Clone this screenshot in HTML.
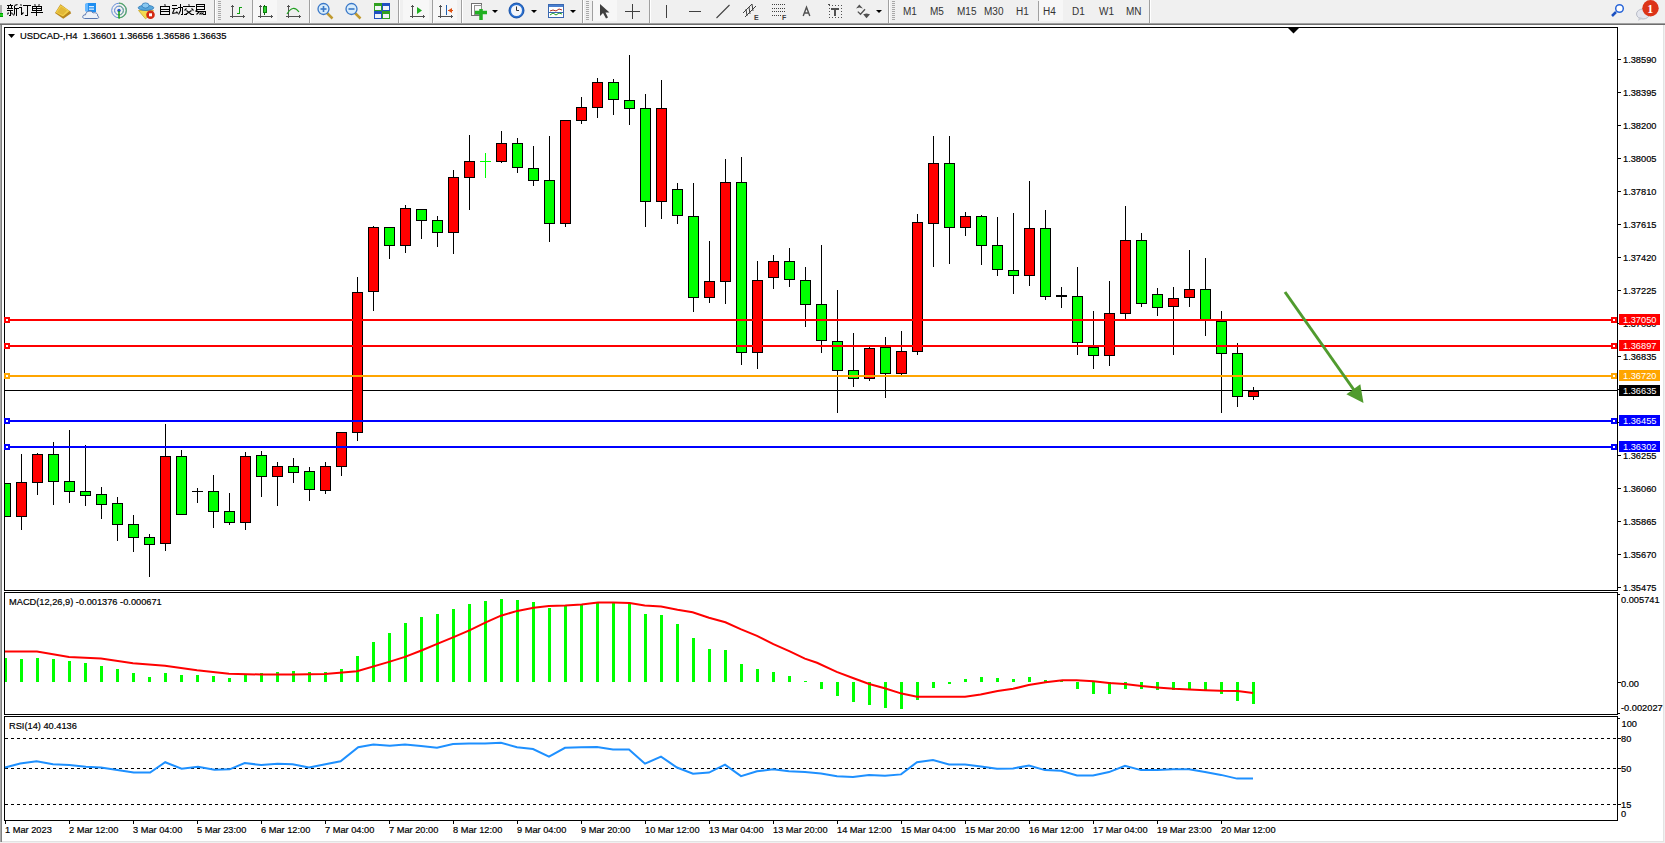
<!DOCTYPE html>
<html><head><meta charset="utf-8"><style>
html,body{margin:0;padding:0;width:1665px;height:843px;overflow:hidden;background:#f0f0f0;}
svg{position:absolute;left:0;top:0;display:block}
text{font-family:"Liberation Sans",sans-serif;font-size:9.5px}
</style></head><body>
<svg width="1665" height="843" viewBox="0 0 1665 843" shape-rendering="crispEdges">
<!-- frame -->
<rect x="0" y="0" width="1665" height="23" fill="#f0f0f0"/>
<rect x="0" y="23" width="1665" height="1" fill="#a0a0a0"/>
<rect x="0" y="24" width="1665" height="1" fill="#6e6e6e"/>
<rect x="0" y="25" width="1664" height="817" fill="#ffffff"/>
<rect x="0" y="25" width="1" height="817" fill="#a8a8a8"/><rect x="1" y="25" width="1" height="817" fill="#808080"/>
<rect x="1663" y="25" width="1" height="817" fill="#e3e3e3"/>
<rect x="2" y="841" width="1662" height="1" fill="#e3e3e3"/>
<!-- panel borders -->
<rect x="4" y="27" width="1614" height="1" fill="#000"/>
<rect x="4" y="590" width="1614" height="1" fill="#000"/>
<rect x="4" y="27" width="1" height="564" fill="#000"/>
<rect x="1617" y="27" width="1" height="564" fill="#000"/>
<rect x="4" y="592" width="1614" height="1" fill="#000"/>
<rect x="4" y="714" width="1614" height="1" fill="#000"/>
<rect x="4" y="592" width="1" height="123" fill="#000"/>
<rect x="1617" y="592" width="1" height="123" fill="#000"/>
<rect x="4" y="716" width="1614" height="1" fill="#000"/>
<rect x="4" y="820" width="1614" height="1" fill="#000"/>
<rect x="4" y="716" width="1" height="105" fill="#000"/>
<rect x="1617" y="716" width="1" height="105" fill="#000"/>
<rect x="1618" y="594" width="2" height="1" fill="#000"/>
<rect x="1618" y="713" width="2" height="1" fill="#000"/>
<rect x="1618" y="718" width="2" height="1" fill="#000"/>
<polygon points="1288,28 1299,28 1293.5,33.5" fill="#000" shape-rendering="geometricPrecision"/>
<!-- bid line -->
<rect x="5" y="390" width="1612" height="1" fill="#000"/>
<svg x="5" y="28" width="1612" height="562" viewBox="5 28 1612 562" overflow="hidden">
<rect x="0" y="483" width="11" height="34" fill="#000"/>
<rect x="1" y="484" width="9" height="32" fill="#00ff00"/>
<rect x="21" y="454" width="1" height="28" fill="#000"/>
<rect x="21" y="517" width="1" height="13" fill="#000"/>
<rect x="16" y="482" width="11" height="35" fill="#000"/>
<rect x="17" y="483" width="9" height="33" fill="#ff0000"/>
<rect x="37" y="453" width="1" height="1" fill="#000"/>
<rect x="37" y="483" width="1" height="12" fill="#000"/>
<rect x="32" y="454" width="11" height="29" fill="#000"/>
<rect x="33" y="455" width="9" height="27" fill="#ff0000"/>
<rect x="53" y="442" width="1" height="12" fill="#000"/>
<rect x="53" y="482" width="1" height="23" fill="#000"/>
<rect x="48" y="454" width="11" height="28" fill="#000"/>
<rect x="49" y="455" width="9" height="26" fill="#00ff00"/>
<rect x="69" y="430" width="1" height="51" fill="#000"/>
<rect x="69" y="492" width="1" height="11" fill="#000"/>
<rect x="64" y="481" width="11" height="11" fill="#000"/>
<rect x="65" y="482" width="9" height="9" fill="#00ff00"/>
<rect x="85" y="445" width="1" height="46" fill="#000"/>
<rect x="85" y="496" width="1" height="10" fill="#000"/>
<rect x="80" y="491" width="11" height="5" fill="#000"/>
<rect x="81" y="492" width="9" height="3" fill="#00ff00"/>
<rect x="101" y="487" width="1" height="7" fill="#000"/>
<rect x="101" y="505" width="1" height="14" fill="#000"/>
<rect x="96" y="494" width="11" height="11" fill="#000"/>
<rect x="97" y="495" width="9" height="9" fill="#00ff00"/>
<rect x="117" y="497" width="1" height="6" fill="#000"/>
<rect x="117" y="525" width="1" height="16" fill="#000"/>
<rect x="112" y="503" width="11" height="22" fill="#000"/>
<rect x="113" y="504" width="9" height="20" fill="#00ff00"/>
<rect x="133" y="515" width="1" height="9" fill="#000"/>
<rect x="133" y="538" width="1" height="14" fill="#000"/>
<rect x="128" y="524" width="11" height="14" fill="#000"/>
<rect x="129" y="525" width="9" height="12" fill="#00ff00"/>
<rect x="149" y="534" width="1" height="3" fill="#000"/>
<rect x="149" y="545" width="1" height="32" fill="#000"/>
<rect x="144" y="537" width="11" height="8" fill="#000"/>
<rect x="145" y="538" width="9" height="6" fill="#00ff00"/>
<rect x="165" y="424" width="1" height="32" fill="#000"/>
<rect x="165" y="544" width="1" height="7" fill="#000"/>
<rect x="160" y="456" width="11" height="88" fill="#000"/>
<rect x="161" y="457" width="9" height="86" fill="#ff0000"/>
<rect x="181" y="450" width="1" height="6" fill="#000"/>
<rect x="176" y="456" width="11" height="59" fill="#000"/>
<rect x="177" y="457" width="9" height="57" fill="#00ff00"/>
<rect x="197" y="488" width="1" height="15" fill="#000"/>
<rect x="192" y="491" width="11" height="1" fill="#000"/>
<rect x="213" y="475" width="1" height="16" fill="#000"/>
<rect x="213" y="512" width="1" height="16" fill="#000"/>
<rect x="208" y="491" width="11" height="21" fill="#000"/>
<rect x="209" y="492" width="9" height="19" fill="#00ff00"/>
<rect x="229" y="493" width="1" height="18" fill="#000"/>
<rect x="229" y="523" width="1" height="2" fill="#000"/>
<rect x="224" y="511" width="11" height="12" fill="#000"/>
<rect x="225" y="512" width="9" height="10" fill="#00ff00"/>
<rect x="245" y="452" width="1" height="4" fill="#000"/>
<rect x="245" y="523" width="1" height="7" fill="#000"/>
<rect x="240" y="456" width="11" height="67" fill="#000"/>
<rect x="241" y="457" width="9" height="65" fill="#ff0000"/>
<rect x="261" y="451" width="1" height="4" fill="#000"/>
<rect x="261" y="477" width="1" height="20" fill="#000"/>
<rect x="256" y="455" width="11" height="22" fill="#000"/>
<rect x="257" y="456" width="9" height="20" fill="#00ff00"/>
<rect x="277" y="462" width="1" height="4" fill="#000"/>
<rect x="277" y="477" width="1" height="29" fill="#000"/>
<rect x="272" y="466" width="11" height="11" fill="#000"/>
<rect x="273" y="467" width="9" height="9" fill="#ff0000"/>
<rect x="293" y="458" width="1" height="8" fill="#000"/>
<rect x="293" y="473" width="1" height="10" fill="#000"/>
<rect x="288" y="466" width="11" height="7" fill="#000"/>
<rect x="289" y="467" width="9" height="5" fill="#00ff00"/>
<rect x="309" y="467" width="1" height="4" fill="#000"/>
<rect x="309" y="490" width="1" height="11" fill="#000"/>
<rect x="304" y="471" width="11" height="19" fill="#000"/>
<rect x="305" y="472" width="9" height="17" fill="#00ff00"/>
<rect x="325" y="462" width="1" height="4" fill="#000"/>
<rect x="325" y="491" width="1" height="3" fill="#000"/>
<rect x="320" y="466" width="11" height="25" fill="#000"/>
<rect x="321" y="467" width="9" height="23" fill="#ff0000"/>
<rect x="341" y="467" width="1" height="9" fill="#000"/>
<rect x="336" y="432" width="11" height="35" fill="#000"/>
<rect x="337" y="433" width="9" height="33" fill="#ff0000"/>
<rect x="357" y="277" width="1" height="15" fill="#000"/>
<rect x="357" y="433" width="1" height="8" fill="#000"/>
<rect x="352" y="292" width="11" height="141" fill="#000"/>
<rect x="353" y="293" width="9" height="139" fill="#ff0000"/>
<rect x="373" y="226" width="1" height="1" fill="#000"/>
<rect x="373" y="292" width="1" height="19" fill="#000"/>
<rect x="368" y="227" width="11" height="65" fill="#000"/>
<rect x="369" y="228" width="9" height="63" fill="#ff0000"/>
<rect x="389" y="246" width="1" height="13" fill="#000"/>
<rect x="384" y="227" width="11" height="19" fill="#000"/>
<rect x="385" y="228" width="9" height="17" fill="#00ff00"/>
<rect x="405" y="205" width="1" height="3" fill="#000"/>
<rect x="405" y="246" width="1" height="7" fill="#000"/>
<rect x="400" y="208" width="11" height="38" fill="#000"/>
<rect x="401" y="209" width="9" height="36" fill="#ff0000"/>
<rect x="421" y="221" width="1" height="18" fill="#000"/>
<rect x="416" y="209" width="11" height="12" fill="#000"/>
<rect x="417" y="210" width="9" height="10" fill="#00ff00"/>
<rect x="437" y="216" width="1" height="4" fill="#000"/>
<rect x="437" y="233" width="1" height="14" fill="#000"/>
<rect x="432" y="220" width="11" height="13" fill="#000"/>
<rect x="433" y="221" width="9" height="11" fill="#00ff00"/>
<rect x="453" y="170" width="1" height="7" fill="#000"/>
<rect x="453" y="233" width="1" height="21" fill="#000"/>
<rect x="448" y="177" width="11" height="56" fill="#000"/>
<rect x="449" y="178" width="9" height="54" fill="#ff0000"/>
<rect x="469" y="135" width="1" height="26" fill="#000"/>
<rect x="469" y="178" width="1" height="32" fill="#000"/>
<rect x="464" y="161" width="11" height="17" fill="#000"/>
<rect x="465" y="162" width="9" height="15" fill="#ff0000"/>
<rect x="485" y="153" width="1" height="25" fill="#00ff00"/>
<rect x="480" y="161" width="11" height="1" fill="#00ff00"/>
<rect x="501" y="131" width="1" height="12" fill="#000"/>
<rect x="501" y="162" width="1" height="1" fill="#000"/>
<rect x="496" y="143" width="11" height="19" fill="#000"/>
<rect x="497" y="144" width="9" height="17" fill="#ff0000"/>
<rect x="517" y="138" width="1" height="5" fill="#000"/>
<rect x="517" y="168" width="1" height="5" fill="#000"/>
<rect x="512" y="143" width="11" height="25" fill="#000"/>
<rect x="513" y="144" width="9" height="23" fill="#00ff00"/>
<rect x="533" y="146" width="1" height="22" fill="#000"/>
<rect x="533" y="181" width="1" height="5" fill="#000"/>
<rect x="528" y="168" width="11" height="13" fill="#000"/>
<rect x="529" y="169" width="9" height="11" fill="#00ff00"/>
<rect x="549" y="136" width="1" height="44" fill="#000"/>
<rect x="549" y="224" width="1" height="18" fill="#000"/>
<rect x="544" y="180" width="11" height="44" fill="#000"/>
<rect x="545" y="181" width="9" height="42" fill="#00ff00"/>
<rect x="565" y="224" width="1" height="3" fill="#000"/>
<rect x="560" y="120" width="11" height="104" fill="#000"/>
<rect x="561" y="121" width="9" height="102" fill="#ff0000"/>
<rect x="581" y="97" width="1" height="10" fill="#000"/>
<rect x="581" y="121" width="1" height="3" fill="#000"/>
<rect x="576" y="107" width="11" height="14" fill="#000"/>
<rect x="577" y="108" width="9" height="12" fill="#ff0000"/>
<rect x="597" y="78" width="1" height="4" fill="#000"/>
<rect x="597" y="108" width="1" height="10" fill="#000"/>
<rect x="592" y="82" width="11" height="26" fill="#000"/>
<rect x="593" y="83" width="9" height="24" fill="#ff0000"/>
<rect x="613" y="79" width="1" height="3" fill="#000"/>
<rect x="613" y="100" width="1" height="15" fill="#000"/>
<rect x="608" y="82" width="11" height="18" fill="#000"/>
<rect x="609" y="83" width="9" height="16" fill="#00ff00"/>
<rect x="629" y="55" width="1" height="45" fill="#000"/>
<rect x="629" y="109" width="1" height="16" fill="#000"/>
<rect x="624" y="100" width="11" height="9" fill="#000"/>
<rect x="625" y="101" width="9" height="7" fill="#00ff00"/>
<rect x="645" y="94" width="1" height="14" fill="#000"/>
<rect x="645" y="202" width="1" height="25" fill="#000"/>
<rect x="640" y="108" width="11" height="94" fill="#000"/>
<rect x="641" y="109" width="9" height="92" fill="#00ff00"/>
<rect x="661" y="80" width="1" height="28" fill="#000"/>
<rect x="661" y="202" width="1" height="17" fill="#000"/>
<rect x="656" y="108" width="11" height="94" fill="#000"/>
<rect x="657" y="109" width="9" height="92" fill="#ff0000"/>
<rect x="677" y="183" width="1" height="6" fill="#000"/>
<rect x="677" y="216" width="1" height="8" fill="#000"/>
<rect x="672" y="189" width="11" height="27" fill="#000"/>
<rect x="673" y="190" width="9" height="25" fill="#00ff00"/>
<rect x="693" y="183" width="1" height="33" fill="#000"/>
<rect x="693" y="298" width="1" height="14" fill="#000"/>
<rect x="688" y="216" width="11" height="82" fill="#000"/>
<rect x="689" y="217" width="9" height="80" fill="#00ff00"/>
<rect x="709" y="241" width="1" height="40" fill="#000"/>
<rect x="709" y="298" width="1" height="5" fill="#000"/>
<rect x="704" y="281" width="11" height="17" fill="#000"/>
<rect x="705" y="282" width="9" height="15" fill="#ff0000"/>
<rect x="725" y="159" width="1" height="23" fill="#000"/>
<rect x="725" y="282" width="1" height="22" fill="#000"/>
<rect x="720" y="182" width="11" height="100" fill="#000"/>
<rect x="721" y="183" width="9" height="98" fill="#ff0000"/>
<rect x="741" y="157" width="1" height="25" fill="#000"/>
<rect x="741" y="353" width="1" height="12" fill="#000"/>
<rect x="736" y="182" width="11" height="171" fill="#000"/>
<rect x="737" y="183" width="9" height="169" fill="#00ff00"/>
<rect x="757" y="261" width="1" height="19" fill="#000"/>
<rect x="757" y="353" width="1" height="16" fill="#000"/>
<rect x="752" y="280" width="11" height="73" fill="#000"/>
<rect x="753" y="281" width="9" height="71" fill="#ff0000"/>
<rect x="773" y="255" width="1" height="6" fill="#000"/>
<rect x="773" y="278" width="1" height="11" fill="#000"/>
<rect x="768" y="261" width="11" height="17" fill="#000"/>
<rect x="769" y="262" width="9" height="15" fill="#ff0000"/>
<rect x="789" y="248" width="1" height="13" fill="#000"/>
<rect x="789" y="280" width="1" height="7" fill="#000"/>
<rect x="784" y="261" width="11" height="19" fill="#000"/>
<rect x="785" y="262" width="9" height="17" fill="#00ff00"/>
<rect x="805" y="267" width="1" height="13" fill="#000"/>
<rect x="805" y="305" width="1" height="22" fill="#000"/>
<rect x="800" y="280" width="11" height="25" fill="#000"/>
<rect x="801" y="281" width="9" height="23" fill="#00ff00"/>
<rect x="821" y="245" width="1" height="59" fill="#000"/>
<rect x="821" y="341" width="1" height="12" fill="#000"/>
<rect x="816" y="304" width="11" height="37" fill="#000"/>
<rect x="817" y="305" width="9" height="35" fill="#00ff00"/>
<rect x="837" y="290" width="1" height="51" fill="#000"/>
<rect x="837" y="371" width="1" height="42" fill="#000"/>
<rect x="832" y="341" width="11" height="30" fill="#000"/>
<rect x="833" y="342" width="9" height="28" fill="#00ff00"/>
<rect x="853" y="333" width="1" height="37" fill="#000"/>
<rect x="853" y="379" width="1" height="8" fill="#000"/>
<rect x="848" y="370" width="11" height="9" fill="#000"/>
<rect x="849" y="371" width="9" height="7" fill="#00ff00"/>
<rect x="869" y="347" width="1" height="1" fill="#000"/>
<rect x="869" y="379" width="1" height="2" fill="#000"/>
<rect x="864" y="348" width="11" height="31" fill="#000"/>
<rect x="865" y="349" width="9" height="29" fill="#ff0000"/>
<rect x="885" y="337" width="1" height="10" fill="#000"/>
<rect x="885" y="374" width="1" height="24" fill="#000"/>
<rect x="880" y="347" width="11" height="27" fill="#000"/>
<rect x="881" y="348" width="9" height="25" fill="#00ff00"/>
<rect x="901" y="331" width="1" height="20" fill="#000"/>
<rect x="901" y="374" width="1" height="1" fill="#000"/>
<rect x="896" y="351" width="11" height="23" fill="#000"/>
<rect x="897" y="352" width="9" height="21" fill="#ff0000"/>
<rect x="917" y="214" width="1" height="8" fill="#000"/>
<rect x="917" y="352" width="1" height="3" fill="#000"/>
<rect x="912" y="222" width="11" height="130" fill="#000"/>
<rect x="913" y="223" width="9" height="128" fill="#ff0000"/>
<rect x="933" y="136" width="1" height="27" fill="#000"/>
<rect x="933" y="224" width="1" height="43" fill="#000"/>
<rect x="928" y="163" width="11" height="61" fill="#000"/>
<rect x="929" y="164" width="9" height="59" fill="#ff0000"/>
<rect x="949" y="136" width="1" height="27" fill="#000"/>
<rect x="949" y="228" width="1" height="36" fill="#000"/>
<rect x="944" y="163" width="11" height="65" fill="#000"/>
<rect x="945" y="164" width="9" height="63" fill="#00ff00"/>
<rect x="965" y="212" width="1" height="4" fill="#000"/>
<rect x="965" y="228" width="1" height="8" fill="#000"/>
<rect x="960" y="216" width="11" height="12" fill="#000"/>
<rect x="961" y="217" width="9" height="10" fill="#ff0000"/>
<rect x="981" y="215" width="1" height="1" fill="#000"/>
<rect x="981" y="246" width="1" height="19" fill="#000"/>
<rect x="976" y="216" width="11" height="30" fill="#000"/>
<rect x="977" y="217" width="9" height="28" fill="#00ff00"/>
<rect x="997" y="217" width="1" height="28" fill="#000"/>
<rect x="997" y="270" width="1" height="6" fill="#000"/>
<rect x="992" y="245" width="11" height="25" fill="#000"/>
<rect x="993" y="246" width="9" height="23" fill="#00ff00"/>
<rect x="1013" y="213" width="1" height="57" fill="#000"/>
<rect x="1013" y="276" width="1" height="18" fill="#000"/>
<rect x="1008" y="270" width="11" height="6" fill="#000"/>
<rect x="1009" y="271" width="9" height="4" fill="#00ff00"/>
<rect x="1029" y="181" width="1" height="47" fill="#000"/>
<rect x="1029" y="276" width="1" height="10" fill="#000"/>
<rect x="1024" y="228" width="11" height="48" fill="#000"/>
<rect x="1025" y="229" width="9" height="46" fill="#ff0000"/>
<rect x="1045" y="210" width="1" height="18" fill="#000"/>
<rect x="1045" y="297" width="1" height="3" fill="#000"/>
<rect x="1040" y="228" width="11" height="69" fill="#000"/>
<rect x="1041" y="229" width="9" height="67" fill="#00ff00"/>
<rect x="1061" y="287" width="1" height="21" fill="#000"/>
<rect x="1056" y="295" width="11" height="2" fill="#000"/>
<rect x="1077" y="267" width="1" height="29" fill="#000"/>
<rect x="1077" y="343" width="1" height="12" fill="#000"/>
<rect x="1072" y="296" width="11" height="47" fill="#000"/>
<rect x="1073" y="297" width="9" height="45" fill="#00ff00"/>
<rect x="1093" y="311" width="1" height="36" fill="#000"/>
<rect x="1093" y="356" width="1" height="13" fill="#000"/>
<rect x="1088" y="347" width="11" height="9" fill="#000"/>
<rect x="1089" y="348" width="9" height="7" fill="#00ff00"/>
<rect x="1109" y="281" width="1" height="32" fill="#000"/>
<rect x="1109" y="356" width="1" height="10" fill="#000"/>
<rect x="1104" y="313" width="11" height="43" fill="#000"/>
<rect x="1105" y="314" width="9" height="41" fill="#ff0000"/>
<rect x="1125" y="206" width="1" height="34" fill="#000"/>
<rect x="1125" y="314" width="1" height="5" fill="#000"/>
<rect x="1120" y="240" width="11" height="74" fill="#000"/>
<rect x="1121" y="241" width="9" height="72" fill="#ff0000"/>
<rect x="1141" y="233" width="1" height="7" fill="#000"/>
<rect x="1141" y="304" width="1" height="3" fill="#000"/>
<rect x="1136" y="240" width="11" height="64" fill="#000"/>
<rect x="1137" y="241" width="9" height="62" fill="#00ff00"/>
<rect x="1157" y="288" width="1" height="6" fill="#000"/>
<rect x="1157" y="308" width="1" height="8" fill="#000"/>
<rect x="1152" y="294" width="11" height="14" fill="#000"/>
<rect x="1153" y="295" width="9" height="12" fill="#00ff00"/>
<rect x="1173" y="287" width="1" height="11" fill="#000"/>
<rect x="1173" y="307" width="1" height="48" fill="#000"/>
<rect x="1168" y="298" width="11" height="9" fill="#000"/>
<rect x="1169" y="299" width="9" height="7" fill="#ff0000"/>
<rect x="1189" y="250" width="1" height="39" fill="#000"/>
<rect x="1189" y="298" width="1" height="9" fill="#000"/>
<rect x="1184" y="289" width="11" height="9" fill="#000"/>
<rect x="1185" y="290" width="9" height="7" fill="#ff0000"/>
<rect x="1205" y="258" width="1" height="31" fill="#000"/>
<rect x="1205" y="320" width="1" height="16" fill="#000"/>
<rect x="1200" y="289" width="11" height="31" fill="#000"/>
<rect x="1201" y="290" width="9" height="29" fill="#00ff00"/>
<rect x="1221" y="311" width="1" height="10" fill="#000"/>
<rect x="1221" y="354" width="1" height="59" fill="#000"/>
<rect x="1216" y="321" width="11" height="33" fill="#000"/>
<rect x="1217" y="322" width="9" height="31" fill="#00ff00"/>
<rect x="1237" y="343" width="1" height="10" fill="#000"/>
<rect x="1237" y="397" width="1" height="10" fill="#000"/>
<rect x="1232" y="353" width="11" height="44" fill="#000"/>
<rect x="1233" y="354" width="9" height="42" fill="#00ff00"/>
<rect x="1253" y="387" width="1" height="4" fill="#000"/>
<rect x="1253" y="397" width="1" height="3" fill="#000"/>
<rect x="1248" y="391" width="11" height="6" fill="#000"/>
<rect x="1249" y="392" width="9" height="4" fill="#ff0000"/>
</svg>
<rect x="5" y="319" width="1612" height="2" fill="#ff0000"/>
<rect x="4" y="317" width="6" height="6" fill="#ff0000"/>
<rect x="6" y="319" width="2" height="2" fill="#fff"/>
<rect x="1611" y="317" width="6" height="6" fill="#ff0000"/>
<rect x="1613" y="319" width="2" height="2" fill="#fff"/>
<rect x="5" y="345" width="1612" height="2" fill="#ff0000"/>
<rect x="4" y="343" width="6" height="6" fill="#ff0000"/>
<rect x="6" y="345" width="2" height="2" fill="#fff"/>
<rect x="1611" y="343" width="6" height="6" fill="#ff0000"/>
<rect x="1613" y="345" width="2" height="2" fill="#fff"/>
<rect x="5" y="375" width="1612" height="2" fill="#ffa500"/>
<rect x="4" y="373" width="6" height="6" fill="#ffa500"/>
<rect x="6" y="375" width="2" height="2" fill="#fff"/>
<rect x="1611" y="373" width="6" height="6" fill="#ffa500"/>
<rect x="1613" y="375" width="2" height="2" fill="#fff"/>
<rect x="5" y="420" width="1612" height="2" fill="#0000ff"/>
<rect x="4" y="418" width="6" height="6" fill="#0000ff"/>
<rect x="6" y="420" width="2" height="2" fill="#fff"/>
<rect x="1611" y="418" width="6" height="6" fill="#0000ff"/>
<rect x="1613" y="420" width="2" height="2" fill="#fff"/>
<rect x="5" y="446" width="1612" height="2" fill="#0000ff"/>
<rect x="4" y="444" width="6" height="6" fill="#0000ff"/>
<rect x="6" y="446" width="2" height="2" fill="#fff"/>
<rect x="1611" y="444" width="6" height="6" fill="#0000ff"/>
<rect x="1613" y="446" width="2" height="2" fill="#fff"/>
<!-- arrow -->
<g shape-rendering="geometricPrecision">
<line x1="1285" y1="292" x2="1354" y2="390" stroke="#509b2e" stroke-width="3"/>
<polygon points="1363.5,403 1346.4,394.2 1360.3,384.2" fill="#509b2e"/>
</g>
<!-- MACD -->
<svg x="5" y="593" width="1612" height="120" viewBox="5 593 1612 120" overflow="hidden">
<g fill="#00ff00"><rect x="4" y="658" width="3" height="24"/><rect x="20" y="659" width="3" height="23"/><rect x="36" y="658" width="3" height="24"/><rect x="52" y="659" width="3" height="23"/><rect x="68" y="661" width="3" height="21"/><rect x="84" y="663" width="3" height="19"/><rect x="100" y="666" width="3" height="16"/><rect x="116" y="669" width="3" height="13"/><rect x="132" y="673" width="3" height="9"/><rect x="148" y="677" width="3" height="5"/><rect x="164" y="673" width="3" height="9"/><rect x="180" y="675" width="3" height="7"/><rect x="196" y="675" width="3" height="7"/><rect x="212" y="676" width="3" height="6"/><rect x="228" y="678" width="3" height="4"/><rect x="244" y="675" width="3" height="7"/><rect x="260" y="673" width="3" height="9"/><rect x="276" y="672" width="3" height="10"/><rect x="292" y="671" width="3" height="11"/><rect x="308" y="672" width="3" height="10"/><rect x="324" y="672" width="3" height="10"/><rect x="340" y="669" width="3" height="13"/><rect x="356" y="656" width="3" height="26"/><rect x="372" y="642" width="3" height="40"/><rect x="388" y="633" width="3" height="49"/><rect x="404" y="623" width="3" height="59"/><rect x="420" y="617" width="3" height="65"/><rect x="436" y="614" width="3" height="68"/><rect x="452" y="609" width="3" height="73"/><rect x="468" y="604" width="3" height="78"/><rect x="484" y="601" width="3" height="81"/><rect x="500" y="599" width="3" height="83"/><rect x="516" y="600" width="3" height="82"/><rect x="532" y="602" width="3" height="80"/><rect x="548" y="608" width="3" height="74"/><rect x="564" y="606" width="3" height="76"/><rect x="580" y="605" width="3" height="77"/><rect x="596" y="602" width="3" height="80"/><rect x="612" y="603" width="3" height="79"/><rect x="628" y="604" width="3" height="78"/><rect x="644" y="614" width="3" height="68"/><rect x="660" y="615" width="3" height="67"/><rect x="676" y="624" width="3" height="58"/><rect x="692" y="638" width="3" height="44"/><rect x="708" y="649" width="3" height="33"/><rect x="724" y="650" width="3" height="32"/><rect x="740" y="664" width="3" height="18"/><rect x="756" y="669" width="3" height="13"/><rect x="772" y="672" width="3" height="10"/><rect x="788" y="676" width="3" height="6"/><rect x="804" y="681" width="3" height="1"/><rect x="820" y="682" width="3" height="7"/><rect x="836" y="682" width="3" height="14"/><rect x="852" y="682" width="3" height="20"/><rect x="868" y="682" width="3" height="23"/><rect x="884" y="682" width="3" height="26"/><rect x="900" y="682" width="3" height="27"/><rect x="916" y="682" width="3" height="18"/><rect x="932" y="682" width="3" height="6"/><rect x="948" y="682" width="3" height="2"/><rect x="964" y="679" width="3" height="3"/><rect x="980" y="677" width="3" height="5"/><rect x="996" y="678" width="3" height="4"/><rect x="1012" y="679" width="3" height="3"/><rect x="1028" y="677" width="3" height="5"/><rect x="1044" y="680" width="3" height="2"/><rect x="1060" y="681" width="3" height="1"/><rect x="1076" y="682" width="3" height="7"/><rect x="1092" y="682" width="3" height="12"/><rect x="1108" y="682" width="3" height="12"/><rect x="1124" y="682" width="3" height="7"/><rect x="1140" y="682" width="3" height="7"/><rect x="1156" y="682" width="3" height="8"/><rect x="1172" y="682" width="3" height="8"/><rect x="1188" y="682" width="3" height="7"/><rect x="1204" y="682" width="3" height="8"/><rect x="1220" y="682" width="3" height="12"/><rect x="1236" y="682" width="3" height="19"/><rect x="1252" y="682" width="3" height="22"/></g>
<polyline points="5,651.6 37,651.6 69,656.9 101,658.6 133,663.2 165,665.7 197,670.2 229,673.8 261,674.5 293,674.5 325,674 357,671.2 389,661.9 405,656.9 421.4,650.5 437.8,643.7 453,637.4 469.4,630.4 485.8,622.3 500.9,615.7 517.3,610.9 533.7,607.7 548.8,605.9 565.2,605.6 581.6,604.4 598,602.6 613.2,602.6 629.6,603.1 644.7,605.6 661.1,606.4 677.5,609.7 692.6,612.2 709,617.7 725.4,622.3 740.6,629.1 757,635.9 773.4,644.2 789.8,651.3 804.9,658.6 817,662.8 836.7,671.9 853.6,678.3 869.2,684 884.7,688.2 901.6,693.6 917.1,696.7 932.7,696.7 965.1,696.7 980.6,694.4 997.6,691 1013.1,688.8 1028.6,685.1 1045.6,682.3 1062.5,680.3 1076.6,680.3 1093.5,681.2 1109,683.1 1124.6,684 1141.5,686 1157,687.4 1174,688.8 1189.5,689.6 1205,690.2 1220.5,690.8 1237.5,691 1253,693" fill="none" stroke="#ff0000" stroke-width="2" shape-rendering="geometricPrecision"/>
</svg>
<!-- RSI -->
<g stroke="#000" stroke-width="1" stroke-dasharray="3,3">
<line x1="5" y1="738.5" x2="1617" y2="738.5"/>
<line x1="5" y1="768.5" x2="1617" y2="768.5"/>
<line x1="5" y1="804.5" x2="1617" y2="804.5"/>
</g>
<polyline points="5,767.5 20.2,763.5 36.6,761.2 53,764.2 69.4,765 85.8,766.8 100.9,767.5 117.3,770 133.7,772.6 150.1,772.6 165.2,762.2 181.6,768.8 198,766.8 214.4,769.8 229.6,769.3 244.7,763 261.1,765 277.5,763.7 292.6,764.2 309,767.5 325.4,764.2 340.6,761.2 358.2,747.3 373.4,744.6 389.8,745.8 405,744.6 421,746.1 437,747.8 453,744.1 469,743.6 485,743.6 501,742.8 517,747.3 533,749.1 549,756.7 565,747.8 581,747.3 597,747.1 613,749.6 629,749.6 645,763.7 661,756.7 677,767.5 693,773.8 709,772.6 725,764.7 741,776.1 757,771.3 773,769.3 789,771.3 805,772 821,773.5 837,776.3 853,776.9 869,774.9 885,775.8 901,774.4 917,762.2 933,760 949,764.5 965,764.5 981,766.5 997,768.7 1013,768.4 1029,765.6 1045,770.1 1061,770.7 1077,775.5 1093,775.5 1109,772.1 1125,765.9 1141,770.1 1157,770.1 1173,769.3 1189,769.3 1205,772.1 1221,774.9 1237,778.6 1253,778.6" fill="none" stroke="#1e90ff" stroke-width="2" shape-rendering="geometricPrecision"/>
<g shape-rendering="geometricPrecision">
<rect x="1618" y="59" width="3" height="1" fill="#000"/>
<text transform="translate(1623,62.5) scale(0.965,1)" fill="#000" style="font-size:9.6px;stroke:#000;stroke-width:0.2px">1.38590</text>
<rect x="1618" y="92" width="3" height="1" fill="#000"/>
<text transform="translate(1623,95.5) scale(0.965,1)" fill="#000" style="font-size:9.6px;stroke:#000;stroke-width:0.2px">1.38395</text>
<rect x="1618" y="125" width="3" height="1" fill="#000"/>
<text transform="translate(1623,128.5) scale(0.965,1)" fill="#000" style="font-size:9.6px;stroke:#000;stroke-width:0.2px">1.38200</text>
<rect x="1618" y="158" width="3" height="1" fill="#000"/>
<text transform="translate(1623,161.5) scale(0.965,1)" fill="#000" style="font-size:9.6px;stroke:#000;stroke-width:0.2px">1.38005</text>
<rect x="1618" y="191" width="3" height="1" fill="#000"/>
<text transform="translate(1623,194.5) scale(0.965,1)" fill="#000" style="font-size:9.6px;stroke:#000;stroke-width:0.2px">1.37810</text>
<rect x="1618" y="224" width="3" height="1" fill="#000"/>
<text transform="translate(1623,227.5) scale(0.965,1)" fill="#000" style="font-size:9.6px;stroke:#000;stroke-width:0.2px">1.37615</text>
<rect x="1618" y="257" width="3" height="1" fill="#000"/>
<text transform="translate(1623,260.5) scale(0.965,1)" fill="#000" style="font-size:9.6px;stroke:#000;stroke-width:0.2px">1.37420</text>
<rect x="1618" y="290" width="3" height="1" fill="#000"/>
<text transform="translate(1623,293.5) scale(0.965,1)" fill="#000" style="font-size:9.6px;stroke:#000;stroke-width:0.2px">1.37225</text>
<rect x="1618" y="323" width="3" height="1" fill="#000"/>
<text transform="translate(1623,326.5) scale(0.965,1)" fill="#000" style="font-size:9.6px;stroke:#000;stroke-width:0.2px">1.37030</text>
<rect x="1618" y="356" width="3" height="1" fill="#000"/>
<text transform="translate(1623,359.5) scale(0.965,1)" fill="#000" style="font-size:9.6px;stroke:#000;stroke-width:0.2px">1.36835</text>
<rect x="1618" y="389" width="3" height="1" fill="#000"/>
<text transform="translate(1623,392.5) scale(0.965,1)" fill="#000" style="font-size:9.6px;stroke:#000;stroke-width:0.2px">1.36640</text>
<rect x="1618" y="422" width="3" height="1" fill="#000"/>
<text transform="translate(1623,425.5) scale(0.965,1)" fill="#000" style="font-size:9.6px;stroke:#000;stroke-width:0.2px">1.36445</text>
<rect x="1618" y="455" width="3" height="1" fill="#000"/>
<text transform="translate(1623,458.5) scale(0.965,1)" fill="#000" style="font-size:9.6px;stroke:#000;stroke-width:0.2px">1.36255</text>
<rect x="1618" y="488" width="3" height="1" fill="#000"/>
<text transform="translate(1623,491.5) scale(0.965,1)" fill="#000" style="font-size:9.6px;stroke:#000;stroke-width:0.2px">1.36060</text>
<rect x="1618" y="521" width="3" height="1" fill="#000"/>
<text transform="translate(1623,524.5) scale(0.965,1)" fill="#000" style="font-size:9.6px;stroke:#000;stroke-width:0.2px">1.35865</text>
<rect x="1618" y="554" width="3" height="1" fill="#000"/>
<text transform="translate(1623,557.5) scale(0.965,1)" fill="#000" style="font-size:9.6px;stroke:#000;stroke-width:0.2px">1.35670</text>
<rect x="1618" y="587" width="3" height="1" fill="#000"/>
<text transform="translate(1623,590.5) scale(0.965,1)" fill="#000" style="font-size:9.6px;stroke:#000;stroke-width:0.2px">1.35475</text>
<rect x="1619" y="314" width="41" height="11" fill="#ff0000"/>
<text transform="translate(1623,322.5) scale(0.965,1)" fill="#fff" style="font-size:9.6px;stroke:#fff;stroke-width:0.0px">1.37050</text>
<rect x="1619" y="340" width="41" height="11" fill="#ff0000"/>
<text transform="translate(1623,348.5) scale(0.965,1)" fill="#fff" style="font-size:9.6px;stroke:#fff;stroke-width:0.0px">1.36897</text>
<rect x="1619" y="370" width="41" height="11" fill="#ffa500"/>
<text transform="translate(1623,378.5) scale(0.965,1)" fill="#fff" style="font-size:9.6px;stroke:#fff;stroke-width:0.0px">1.36720</text>
<rect x="1619" y="385" width="41" height="11" fill="#000000"/>
<text transform="translate(1623,393.5) scale(0.965,1)" fill="#fff" style="font-size:9.6px;stroke:#fff;stroke-width:0.0px">1.36635</text>
<rect x="1619" y="415" width="41" height="11" fill="#0000ff"/>
<text transform="translate(1623,423.5) scale(0.965,1)" fill="#fff" style="font-size:9.6px;stroke:#fff;stroke-width:0.0px">1.36455</text>
<rect x="1619" y="441" width="41" height="11" fill="#0000ff"/>
<text transform="translate(1623,449.5) scale(0.965,1)" fill="#fff" style="font-size:9.6px;stroke:#fff;stroke-width:0.0px">1.36302</text>
<rect x="5" y="821" width="1" height="3" fill="#000"/>
<text transform="translate(5,833) scale(0.965,1)" fill="#000" style="font-size:9.6px;stroke:#000;stroke-width:0.2px">1&#160;Mar&#160;2023</text>
<rect x="69" y="821" width="1" height="3" fill="#000"/>
<text transform="translate(69,833) scale(0.965,1)" fill="#000" style="font-size:9.6px;stroke:#000;stroke-width:0.2px">2&#160;Mar&#160;12:00</text>
<rect x="133" y="821" width="1" height="3" fill="#000"/>
<text transform="translate(133,833) scale(0.965,1)" fill="#000" style="font-size:9.6px;stroke:#000;stroke-width:0.2px">3&#160;Mar&#160;04:00</text>
<rect x="197" y="821" width="1" height="3" fill="#000"/>
<text transform="translate(197,833) scale(0.965,1)" fill="#000" style="font-size:9.6px;stroke:#000;stroke-width:0.2px">5&#160;Mar&#160;23:00</text>
<rect x="261" y="821" width="1" height="3" fill="#000"/>
<text transform="translate(261,833) scale(0.965,1)" fill="#000" style="font-size:9.6px;stroke:#000;stroke-width:0.2px">6&#160;Mar&#160;12:00</text>
<rect x="325" y="821" width="1" height="3" fill="#000"/>
<text transform="translate(325,833) scale(0.965,1)" fill="#000" style="font-size:9.6px;stroke:#000;stroke-width:0.2px">7&#160;Mar&#160;04:00</text>
<rect x="389" y="821" width="1" height="3" fill="#000"/>
<text transform="translate(389,833) scale(0.965,1)" fill="#000" style="font-size:9.6px;stroke:#000;stroke-width:0.2px">7&#160;Mar&#160;20:00</text>
<rect x="453" y="821" width="1" height="3" fill="#000"/>
<text transform="translate(453,833) scale(0.965,1)" fill="#000" style="font-size:9.6px;stroke:#000;stroke-width:0.2px">8&#160;Mar&#160;12:00</text>
<rect x="517" y="821" width="1" height="3" fill="#000"/>
<text transform="translate(517,833) scale(0.965,1)" fill="#000" style="font-size:9.6px;stroke:#000;stroke-width:0.2px">9&#160;Mar&#160;04:00</text>
<rect x="581" y="821" width="1" height="3" fill="#000"/>
<text transform="translate(581,833) scale(0.965,1)" fill="#000" style="font-size:9.6px;stroke:#000;stroke-width:0.2px">9&#160;Mar&#160;20:00</text>
<rect x="645" y="821" width="1" height="3" fill="#000"/>
<text transform="translate(645,833) scale(0.965,1)" fill="#000" style="font-size:9.6px;stroke:#000;stroke-width:0.2px">10&#160;Mar&#160;12:00</text>
<rect x="709" y="821" width="1" height="3" fill="#000"/>
<text transform="translate(709,833) scale(0.965,1)" fill="#000" style="font-size:9.6px;stroke:#000;stroke-width:0.2px">13&#160;Mar&#160;04:00</text>
<rect x="773" y="821" width="1" height="3" fill="#000"/>
<text transform="translate(773,833) scale(0.965,1)" fill="#000" style="font-size:9.6px;stroke:#000;stroke-width:0.2px">13&#160;Mar&#160;20:00</text>
<rect x="837" y="821" width="1" height="3" fill="#000"/>
<text transform="translate(837,833) scale(0.965,1)" fill="#000" style="font-size:9.6px;stroke:#000;stroke-width:0.2px">14&#160;Mar&#160;12:00</text>
<rect x="901" y="821" width="1" height="3" fill="#000"/>
<text transform="translate(901,833) scale(0.965,1)" fill="#000" style="font-size:9.6px;stroke:#000;stroke-width:0.2px">15&#160;Mar&#160;04:00</text>
<rect x="965" y="821" width="1" height="3" fill="#000"/>
<text transform="translate(965,833) scale(0.965,1)" fill="#000" style="font-size:9.6px;stroke:#000;stroke-width:0.2px">15&#160;Mar&#160;20:00</text>
<rect x="1029" y="821" width="1" height="3" fill="#000"/>
<text transform="translate(1029,833) scale(0.965,1)" fill="#000" style="font-size:9.6px;stroke:#000;stroke-width:0.2px">16&#160;Mar&#160;12:00</text>
<rect x="1093" y="821" width="1" height="3" fill="#000"/>
<text transform="translate(1093,833) scale(0.965,1)" fill="#000" style="font-size:9.6px;stroke:#000;stroke-width:0.2px">17&#160;Mar&#160;04:00</text>
<rect x="1157" y="821" width="1" height="3" fill="#000"/>
<text transform="translate(1157,833) scale(0.965,1)" fill="#000" style="font-size:9.6px;stroke:#000;stroke-width:0.2px">19&#160;Mar&#160;23:00</text>
<rect x="1221" y="821" width="1" height="3" fill="#000"/>
<text transform="translate(1221,833) scale(0.965,1)" fill="#000" style="font-size:9.6px;stroke:#000;stroke-width:0.2px">20&#160;Mar&#160;12:00</text>
<text transform="translate(1621,603) scale(0.965,1)" fill="#000" style="font-size:9.6px;stroke:#000;stroke-width:0.2px">0.005741</text>
<rect x="1618" y="682" width="3" height="1" fill="#000"/>
<text transform="translate(1621,686.5) scale(0.965,1)" fill="#000" style="font-size:9.6px;stroke:#000;stroke-width:0.2px">0.00</text>
<text transform="translate(1621,711) scale(0.965,1)" fill="#000" style="font-size:9.6px;stroke:#000;stroke-width:0.2px">-0.002027</text>
<text transform="translate(1621.5,727) scale(0.965,1)" fill="#000" style="font-size:9.6px;stroke:#000;stroke-width:0.2px">100</text>
<rect x="1618" y="738" width="3" height="1" fill="#000"/>
<text transform="translate(1621,742) scale(0.965,1)" fill="#000" style="font-size:9.6px;stroke:#000;stroke-width:0.2px">80</text>
<rect x="1618" y="768" width="3" height="1" fill="#000"/>
<text transform="translate(1621,772) scale(0.965,1)" fill="#000" style="font-size:9.6px;stroke:#000;stroke-width:0.2px">50</text>
<rect x="1618" y="804" width="3" height="1" fill="#000"/>
<text transform="translate(1621,808) scale(0.965,1)" fill="#000" style="font-size:9.6px;stroke:#000;stroke-width:0.2px">15</text>
<text transform="translate(1621,817) scale(0.965,1)" fill="#000" style="font-size:9.6px;stroke:#000;stroke-width:0.2px">0</text>
<text transform="translate(9,605) scale(0.965,1)" fill="#000" style="font-size:9.6px;stroke:#000;stroke-width:0.2px">MACD(12,26,9)&#160;-0.001376&#160;-0.000671</text>
<text transform="translate(9,729) scale(0.965,1)" fill="#000" style="font-size:9.6px;stroke:#000;stroke-width:0.2px">RSI(14)&#160;40.4136</text>
<polygon points="8,34 15,34 11.5,38" fill="#000"/>
<text transform="translate(20,39) scale(0.98,1)" fill="#000" style="font-size:9.6px;stroke:#000;stroke-width:0.2px">USDCAD-,H4&#160;&#160;1.36601&#160;1.36656&#160;1.36586&#160;1.36635</text>
</g>
<!-- TOOLBAR -->
<rect x="0" y="5" width="2" height="10" fill="#b0b0b0"/>
<rect x="0" y="13" width="3" height="4" fill="#00a000"/>
<rect x="0" y="14" width="3" height="2" fill="#20d020"/>
<rect x="10" y="4" width="1" height="1" fill="#000"/>
<rect x="7" y="5" width="6" height="1" fill="#000"/>
<rect x="8" y="6" width="1" height="2" fill="#000"/>
<rect x="11" y="6" width="1" height="2" fill="#000"/>
<rect x="7" y="8" width="6" height="1" fill="#000"/>
<rect x="7" y="10" width="6" height="1" fill="#000"/>
<rect x="10" y="10" width="1" height="6" fill="#000"/>
<rect x="9" y="15" width="2" height="1" fill="#000"/>
<line x1="8.5" y1="12.5" x2="7.5" y2="14.5" stroke="#000" stroke-width="1.1" shape-rendering="geometricPrecision"/>
<line x1="11.5" y1="12.5" x2="12.5" y2="14.5" stroke="#000" stroke-width="1.1" shape-rendering="geometricPrecision"/>
<line x1="17.5" y1="4.5" x2="14.5" y2="5.5" stroke="#000" stroke-width="1.1" shape-rendering="geometricPrecision"/>
<rect x="14" y="6" width="1" height="8" fill="#000"/>
<line x1="14.5" y1="13.5" x2="13.5" y2="15.5" stroke="#000" stroke-width="1.1" shape-rendering="geometricPrecision"/>
<rect x="14" y="8" width="5" height="1" fill="#000"/>
<rect x="16" y="8" width="1" height="8" fill="#000"/>
<line x1="20.5" y1="4.5" x2="21.5" y2="5.5" stroke="#000" stroke-width="1.1" shape-rendering="geometricPrecision"/>
<rect x="19" y="7" width="3" height="1" fill="#000"/>
<rect x="21" y="7" width="1" height="8" fill="#000"/>
<line x1="21.5" y1="14.5" x2="23.5" y2="12.5" stroke="#000" stroke-width="1.1" shape-rendering="geometricPrecision"/>
<rect x="23" y="5" width="8" height="1" fill="#000"/>
<rect x="27" y="5" width="1" height="11" fill="#000"/>
<rect x="25" y="15" width="3" height="1" fill="#000"/>
<line x1="34.5" y1="4.5" x2="35.5" y2="5.5" stroke="#000" stroke-width="1.1" shape-rendering="geometricPrecision"/>
<line x1="39.5" y1="4.5" x2="38.5" y2="5.5" stroke="#000" stroke-width="1.1" shape-rendering="geometricPrecision"/>
<rect x="32" y="6" width="10" height="1" fill="#000"/>
<rect x="32" y="8" width="10" height="1" fill="#000"/>
<rect x="32" y="10" width="10" height="1" fill="#000"/>
<rect x="32" y="6" width="1" height="5" fill="#000"/>
<rect x="41" y="6" width="1" height="5" fill="#000"/>
<rect x="36" y="6" width="1" height="10" fill="#000"/>
<rect x="31" y="12" width="12" height="1" fill="#000"/>
<g shape-rendering="geometricPrecision"><polygon points="55,13 60.5,4.3 70,11.3 71.2,13.3 63.3,18.7" fill="#b8861c"/><polygon points="55.6,12.6 60.6,5 69.6,11 63,16.6" fill="#f2cf48"/><polygon points="57,12.5 61,6.5 67,10.5 63,15" fill="#e2b838"/></g>
<g shape-rendering="geometricPrecision"><polygon points="85,4 88,3 96,3 96,12 88,12 85,11" fill="#1f8ef0"/><polygon points="85,4 88,3 88,12 85,11" fill="#68b8ff"/><rect x="89" y="6" width="5" height="1.3" fill="#d8ecff"/><rect x="89" y="8.5" width="5" height="1.3" fill="#d8ecff"/><path d="M84.5,18.5 C82,18.5 82,14.5 85.5,14.8 C86,10.5 91.5,10 93,13 C95,12 98.5,13.5 97.5,16 C99.5,16.5 99,18.5 97,18.5 Z" fill="#eef2f8" stroke="#5a78b0" stroke-width="1"/></g>
<g shape-rendering="geometricPrecision" fill="none"><circle cx="119" cy="10.5" r="7.3" stroke="#6890d8" stroke-width="1"/><circle cx="119" cy="10.5" r="4.4" stroke="#4a78d0" stroke-width="1"/></g>
<svg x="119" y="0" width="10" height="24" viewBox="119 0 10 24"><g shape-rendering="geometricPrecision" fill="none"><circle cx="119" cy="10.5" r="7.3" stroke="#58a868" stroke-width="1.2"/><circle cx="119" cy="10.5" r="4.4" stroke="#78b088" stroke-width="1"/></g></svg>
<g shape-rendering="geometricPrecision"><circle cx="119" cy="10.5" r="1.7" fill="#2858c8"/><path d="M119,11 V18.5" stroke="#18a018" stroke-width="1.5"/></g>
<g shape-rendering="geometricPrecision"><polygon points="138.5,10.5 153.5,10.5 149,16 145.5,18.8" fill="#f3da50" stroke="#c8a828" stroke-width="0.8"/><ellipse cx="146" cy="7.8" rx="7.8" ry="2.6" fill="#58a8dc" stroke="#2f78b8" stroke-width="0.8"/><ellipse cx="145.5" cy="5.5" rx="3.6" ry="2.6" fill="#88c8f0" stroke="#2f78b8" stroke-width="0.8"/><circle cx="150.5" cy="14.8" r="4.3" fill="#d42a12"/><rect x="149" y="13.3" width="3" height="3" fill="#fff"/></g>
<line x1="164.5" y1="4.5" x2="165.5" y2="5.5" stroke="#000" stroke-width="1.1" shape-rendering="geometricPrecision"/>
<rect x="160" y="6" width="10" height="1" fill="#000"/>
<rect x="160" y="6" width="1" height="9" fill="#000"/>
<rect x="169" y="6" width="1" height="9" fill="#000"/>
<rect x="160" y="9" width="10" height="1" fill="#000"/>
<rect x="160" y="11" width="10" height="1" fill="#000"/>
<rect x="160" y="14" width="10" height="1" fill="#000"/>
<rect x="172" y="5" width="5" height="1" fill="#000"/>
<rect x="172" y="8" width="6" height="1" fill="#000"/>
<line x1="174.5" y1="8.5" x2="172.5" y2="13.5" stroke="#000" stroke-width="1.1" shape-rendering="geometricPrecision"/>
<line x1="172.5" y1="13.5" x2="177.5" y2="12.5" stroke="#000" stroke-width="1.1" shape-rendering="geometricPrecision"/>
<line x1="176.5" y1="11.5" x2="177.5" y2="13.5" stroke="#000" stroke-width="1.1" shape-rendering="geometricPrecision"/>
<rect x="178" y="7" width="5" height="1" fill="#000"/>
<rect x="182" y="7" width="1" height="8" fill="#000"/>
<rect x="181" y="14" width="2" height="1" fill="#000"/>
<rect x="180" y="4" width="1" height="7" fill="#000"/>
<line x1="180.5" y1="10.5" x2="178.5" y2="14.5" stroke="#000" stroke-width="1.1" shape-rendering="geometricPrecision"/>
<line x1="188.5" y1="4.5" x2="189.5" y2="5.5" stroke="#000" stroke-width="1.1" shape-rendering="geometricPrecision"/>
<rect x="183" y="6" width="12" height="1" fill="#000"/>
<line x1="186.5" y1="8.5" x2="184.5" y2="10.5" stroke="#000" stroke-width="1.1" shape-rendering="geometricPrecision"/>
<line x1="191.5" y1="8.5" x2="193.5" y2="10.5" stroke="#000" stroke-width="1.1" shape-rendering="geometricPrecision"/>
<line x1="186.5" y1="10.5" x2="191.5" y2="14.5" stroke="#000" stroke-width="1.1" shape-rendering="geometricPrecision"/>
<line x1="191.5" y1="10.5" x2="185.5" y2="14.5" stroke="#000" stroke-width="1.1" shape-rendering="geometricPrecision"/>
<rect x="184" y="14" width="3" height="1" fill="#000"/>
<rect x="191" y="14" width="3" height="1" fill="#000"/>
<rect x="196" y="4" width="9" height="1" fill="#000"/>
<rect x="196" y="4" width="1" height="6" fill="#000"/>
<rect x="204" y="4" width="1" height="6" fill="#000"/>
<rect x="196" y="6" width="9" height="1" fill="#000"/>
<rect x="196" y="9" width="9" height="1" fill="#000"/>
<line x1="197.5" y1="9.5" x2="195.5" y2="11.5" stroke="#000" stroke-width="1.1" shape-rendering="geometricPrecision"/>
<rect x="196" y="11" width="10" height="1" fill="#000"/>
<rect x="205" y="11" width="1" height="4" fill="#000"/>
<rect x="203" y="14" width="3" height="1" fill="#000"/>
<line x1="199.5" y1="11.5" x2="196.5" y2="14.5" stroke="#000" stroke-width="1.1" shape-rendering="geometricPrecision"/>
<line x1="201.5" y1="12.5" x2="199.5" y2="14.5" stroke="#000" stroke-width="1.1" shape-rendering="geometricPrecision"/>
<line x1="203.5" y1="12.5" x2="201.5" y2="14.5" stroke="#000" stroke-width="1.1" shape-rendering="geometricPrecision"/>
<rect x="214" y="0" width="1" height="23" fill="#a0a0a0"/>
<rect x="215" y="0" width="1" height="23" fill="#ffffff"/>
<rect x="218" y="1" width="3" height="1" fill="#a8a8a8"/>
<rect x="218" y="3" width="3" height="1" fill="#a8a8a8"/>
<rect x="218" y="5" width="3" height="1" fill="#a8a8a8"/>
<rect x="218" y="7" width="3" height="1" fill="#a8a8a8"/>
<rect x="218" y="9" width="3" height="1" fill="#a8a8a8"/>
<rect x="218" y="11" width="3" height="1" fill="#a8a8a8"/>
<rect x="218" y="13" width="3" height="1" fill="#a8a8a8"/>
<rect x="218" y="15" width="3" height="1" fill="#a8a8a8"/>
<rect x="218" y="17" width="3" height="1" fill="#a8a8a8"/>
<rect x="218" y="19" width="3" height="1" fill="#a8a8a8"/>
<rect x="232" y="5" width="1" height="13" fill="#505050"/>
<rect x="230" y="16" width="15" height="1" fill="#505050"/>
<rect x="231" y="6" width="3" height="1" fill="#505050"/>
<rect x="243" y="15" width="1" height="3" fill="#505050"/>
<rect x="237" y="13" width="3" height="1" fill="#10a010"/>
<rect x="239" y="7" width="1" height="7" fill="#10a010"/>
<rect x="239" y="7" width="3" height="1" fill="#10a010"/>
<rect x="252" y="0" width="1" height="23" fill="#a0a0a0"/>
<rect x="253" y="0" width="1" height="23" fill="#ffffff"/>
<rect x="253" y="0" width="24" height="21" fill="#f7f7f7"/>
<rect x="260" y="5" width="1" height="13" fill="#505050"/>
<rect x="258" y="16" width="15" height="1" fill="#505050"/>
<rect x="259" y="6" width="3" height="1" fill="#505050"/>
<rect x="271" y="15" width="1" height="3" fill="#505050"/>
<rect x="264" y="5" width="1" height="10" fill="#106010"/>
<rect x="263" y="7" width="4" height="6" fill="#30d030"/>
<rect x="263.5" y="6.5" width="3" height="6" fill="none" stroke="#108010"/>
<rect x="288" y="5" width="1" height="13" fill="#505050"/>
<rect x="286" y="16" width="15" height="1" fill="#505050"/>
<rect x="287" y="6" width="3" height="1" fill="#505050"/>
<rect x="299" y="15" width="1" height="3" fill="#505050"/>
<path d="M287,14 Q293,4 299,12" fill="none" stroke="#20a020" stroke-width="1.2" shape-rendering="geometricPrecision"/>
<rect x="309" y="0" width="1" height="23" fill="#a0a0a0"/>
<rect x="310" y="0" width="1" height="23" fill="#ffffff"/>
<g shape-rendering="geometricPrecision"><line x1="326.5" y1="12.5" x2="332.5" y2="18.5" stroke="#c09a30" stroke-width="2.5"/><circle cx="323.5" cy="9" r="5.5" fill="#d8ecfa" stroke="#3a78c8" stroke-width="1.3"/><rect x="320.5" y="8.2" width="6" height="1.6" fill="#3a78c8"/><rect x="322.7" y="6" width="1.6" height="6" fill="#3a78c8"/></g>
<g shape-rendering="geometricPrecision"><line x1="354.5" y1="12.5" x2="360.5" y2="18.5" stroke="#c09a30" stroke-width="2.5"/><circle cx="351.5" cy="9" r="5.5" fill="#d8ecfa" stroke="#3a78c8" stroke-width="1.3"/><rect x="348.5" y="8.2" width="6" height="1.6" fill="#3a78c8"/></g>
<rect x="374" y="3" width="8" height="8" fill="#30a020"/>
<rect x="382" y="3" width="8" height="8" fill="#2050c0"/>
<rect x="374" y="11" width="8" height="8" fill="#2050c0"/>
<rect x="382" y="11" width="8" height="8" fill="#30a020"/>
<rect x="375" y="6" width="6" height="4" fill="#f0f4f8"/>
<rect x="383" y="6" width="6" height="4" fill="#f0f4f8"/>
<rect x="375" y="14" width="6" height="4" fill="#f0f4f8"/>
<rect x="383" y="14" width="6" height="4" fill="#f0f4f8"/>
<rect x="398" y="0" width="1" height="23" fill="#a0a0a0"/>
<rect x="399" y="0" width="1" height="23" fill="#ffffff"/>
<rect x="403" y="0" width="26" height="21" fill="#f7f7f7"/>
<rect x="412" y="5" width="1" height="13" fill="#505050"/>
<rect x="410" y="16" width="15" height="1" fill="#505050"/>
<rect x="411" y="6" width="3" height="1" fill="#505050"/>
<rect x="423" y="15" width="1" height="3" fill="#505050"/>
<polygon points="417,7 417,14 422,10.5" fill="#20b020" shape-rendering="geometricPrecision"/>
<rect x="432" y="0" width="1" height="23" fill="#a0a0a0"/>
<rect x="433" y="0" width="1" height="23" fill="#ffffff"/>
<rect x="433" y="0" width="24" height="21" fill="#f7f7f7"/>
<rect x="440" y="5" width="1" height="13" fill="#505050"/>
<rect x="438" y="16" width="15" height="1" fill="#505050"/>
<rect x="439" y="6" width="3" height="1" fill="#505050"/>
<rect x="451" y="15" width="1" height="3" fill="#505050"/>
<rect x="446" y="5" width="1" height="10" fill="#2060b0"/>
<polygon points="448,10.5 452,8 452,13" fill="#e05010" shape-rendering="geometricPrecision"/>
<rect x="448" y="10" width="5" height="1" fill="#e05010"/>
<rect x="461" y="0" width="1" height="23" fill="#a0a0a0"/>
<rect x="462" y="0" width="1" height="23" fill="#ffffff"/>
<g shape-rendering="geometricPrecision"><rect x="471.5" y="3.5" width="10" height="12" fill="#fff" stroke="#707070"/><rect x="474.5" y="5.5" width="7" height="9" fill="#f8f8f8" stroke="#909090"/><path d="M475,12.5 H487 M481,9 V20" stroke="#20b020" stroke-width="3.5"/></g>
<polygon points="492,10 498,10 495,13" fill="#000" shape-rendering="geometricPrecision"/>
<g shape-rendering="geometricPrecision"><circle cx="516.5" cy="10.5" r="7.5" fill="#2a70d0" stroke="#1550a8"/><circle cx="516.5" cy="10.5" r="5.5" fill="#f4f6fa"/><path d="M516.5,6.5 V10.5 H519" stroke="#333" stroke-width="1" fill="none"/></g>
<polygon points="531,10 537,10 534,13" fill="#000" shape-rendering="geometricPrecision"/>
<g shape-rendering="geometricPrecision"><rect x="548.5" y="4.5" width="15" height="13" fill="#fff" stroke="#3a68b0"/><rect x="549" y="5" width="14" height="2" fill="#4a80d0"/><path d="M550,11 L553,10 L556,11 L559,9 L562,10" stroke="#b03020" fill="none"/><path d="M550,15 L553,13 L556,15 L559,13 L562,14" stroke="#20a020" fill="none"/><line x1="549" y1="12.5" x2="563" y2="12.5" stroke="#3a68b0"/></g>
<polygon points="570,10 576,10 573,13" fill="#000" shape-rendering="geometricPrecision"/>
<rect x="582" y="0" width="1" height="23" fill="#a0a0a0"/>
<rect x="583" y="0" width="1" height="23" fill="#ffffff"/>
<rect x="586" y="1" width="3" height="1" fill="#a8a8a8"/>
<rect x="586" y="3" width="3" height="1" fill="#a8a8a8"/>
<rect x="586" y="5" width="3" height="1" fill="#a8a8a8"/>
<rect x="586" y="7" width="3" height="1" fill="#a8a8a8"/>
<rect x="586" y="9" width="3" height="1" fill="#a8a8a8"/>
<rect x="586" y="11" width="3" height="1" fill="#a8a8a8"/>
<rect x="586" y="13" width="3" height="1" fill="#a8a8a8"/>
<rect x="586" y="15" width="3" height="1" fill="#a8a8a8"/>
<rect x="586" y="17" width="3" height="1" fill="#a8a8a8"/>
<rect x="586" y="19" width="3" height="1" fill="#a8a8a8"/>
<rect x="592" y="1" width="1" height="20" fill="#a0a0a0"/>
<rect x="593" y="0" width="24" height="21" fill="#f7f7f7"/>
<polygon points="600,4 600,16 603,13 606,18.5 608,17.5 605.5,12.5 609.5,12.5" fill="#404040" shape-rendering="geometricPrecision"/>
<rect x="625" y="11" width="15" height="1" fill="#404040"/>
<rect x="632" y="4" width="1" height="15" fill="#404040"/>
<rect x="649" y="0" width="1" height="23" fill="#a0a0a0"/>
<rect x="650" y="0" width="1" height="23" fill="#ffffff"/>
<rect x="666" y="5" width="1" height="13" fill="#404040"/>
<rect x="689" y="11" width="12" height="1" fill="#404040"/>
<line x1="716.5" y1="18" x2="729.5" y2="5" stroke="#404040" stroke-width="1.1" shape-rendering="geometricPrecision"/>
<g shape-rendering="geometricPrecision" stroke="#404040" stroke-width="1" fill="none"><line x1="743" y1="13" x2="752" y2="4"/><line x1="745" y1="17" x2="756" y2="6"/><line x1="746" y1="9" x2="747" y2="16"/><line x1="749" y1="7" x2="750" y2="14"/><line x1="752" y1="4" x2="753" y2="11"/></g>
<text x="754" y="19.5" style="font-family:'Liberation Sans',sans-serif;font-size:7px;font-weight:bold;fill:#404040">E</text>
<rect x="772" y="4" width="1" height="1" fill="#404040"/>
<rect x="774" y="4" width="1" height="1" fill="#404040"/>
<rect x="776" y="4" width="1" height="1" fill="#404040"/>
<rect x="778" y="4" width="1" height="1" fill="#404040"/>
<rect x="780" y="4" width="1" height="1" fill="#404040"/>
<rect x="782" y="4" width="1" height="1" fill="#404040"/>
<rect x="784" y="4" width="1" height="1" fill="#404040"/>
<rect x="772" y="8" width="1" height="1" fill="#404040"/>
<rect x="774" y="8" width="1" height="1" fill="#404040"/>
<rect x="776" y="8" width="1" height="1" fill="#404040"/>
<rect x="778" y="8" width="1" height="1" fill="#404040"/>
<rect x="780" y="8" width="1" height="1" fill="#404040"/>
<rect x="782" y="8" width="1" height="1" fill="#404040"/>
<rect x="784" y="8" width="1" height="1" fill="#404040"/>
<rect x="772" y="11" width="1" height="1" fill="#404040"/>
<rect x="774" y="11" width="1" height="1" fill="#404040"/>
<rect x="776" y="11" width="1" height="1" fill="#404040"/>
<rect x="778" y="11" width="1" height="1" fill="#404040"/>
<rect x="780" y="11" width="1" height="1" fill="#404040"/>
<rect x="782" y="11" width="1" height="1" fill="#404040"/>
<rect x="784" y="11" width="1" height="1" fill="#404040"/>
<rect x="772" y="15" width="1" height="1" fill="#404040"/>
<rect x="774" y="15" width="1" height="1" fill="#404040"/>
<rect x="776" y="15" width="1" height="1" fill="#404040"/>
<rect x="778" y="15" width="1" height="1" fill="#404040"/>
<rect x="780" y="15" width="1" height="1" fill="#404040"/>
<text x="782" y="19.5" style="font-family:'Liberation Sans',sans-serif;font-size:7px;font-weight:bold;fill:#404040">F</text>
<path d="M803.2,16 L806.5,7.2 L809.8,16 M804.4,13 H808.6" fill="none" stroke="#505050" stroke-width="1.4" shape-rendering="geometricPrecision"/>
<rect x="829" y="5" width="1" height="1" fill="#505050"/>
<rect x="829" y="17" width="1" height="1" fill="#505050"/>
<rect x="832" y="5" width="1" height="1" fill="#505050"/>
<rect x="832" y="17" width="1" height="1" fill="#505050"/>
<rect x="835" y="5" width="1" height="1" fill="#505050"/>
<rect x="835" y="17" width="1" height="1" fill="#505050"/>
<rect x="838" y="5" width="1" height="1" fill="#505050"/>
<rect x="838" y="17" width="1" height="1" fill="#505050"/>
<rect x="841" y="5" width="1" height="1" fill="#505050"/>
<rect x="841" y="17" width="1" height="1" fill="#505050"/>
<rect x="829" y="8" width="1" height="1" fill="#505050"/>
<rect x="841" y="8" width="1" height="1" fill="#505050"/>
<rect x="829" y="11" width="1" height="1" fill="#505050"/>
<rect x="841" y="11" width="1" height="1" fill="#505050"/>
<rect x="829" y="14" width="1" height="1" fill="#505050"/>
<rect x="841" y="14" width="1" height="1" fill="#505050"/>
<rect x="828" y="4" width="2" height="1" fill="#505050"/>
<rect x="831" y="8" width="8" height="2" fill="#505050"/>
<rect x="834" y="8" width="2" height="8" fill="#505050"/>
<g shape-rendering="geometricPrecision" fill="#505050"><polygon points="859.3,4.5 856,8.6 859.3,7.6 862.9,8.6"/><polygon points="866.5,18.2 863.2,14.2 866.5,13.4 870,14.2"/><path d="M857.8,11.6 L860.5,14.2 L865,9.3" stroke="#505050" stroke-width="1.3" fill="none"/></g>
<polygon points="876,10 882,10 879,13" fill="#000" shape-rendering="geometricPrecision"/>
<rect x="888" y="0" width="1" height="23" fill="#a0a0a0"/>
<rect x="889" y="0" width="1" height="23" fill="#ffffff"/>
<rect x="892" y="1" width="3" height="1" fill="#a8a8a8"/>
<rect x="892" y="3" width="3" height="1" fill="#a8a8a8"/>
<rect x="892" y="5" width="3" height="1" fill="#a8a8a8"/>
<rect x="892" y="7" width="3" height="1" fill="#a8a8a8"/>
<rect x="892" y="9" width="3" height="1" fill="#a8a8a8"/>
<rect x="892" y="11" width="3" height="1" fill="#a8a8a8"/>
<rect x="892" y="13" width="3" height="1" fill="#a8a8a8"/>
<rect x="892" y="15" width="3" height="1" fill="#a8a8a8"/>
<rect x="892" y="17" width="3" height="1" fill="#a8a8a8"/>
<rect x="892" y="19" width="3" height="1" fill="#a8a8a8"/>
<text x="903" y="15" style="font-family:'Liberation Sans',sans-serif;font-size:10px;fill:#333">M1</text>
<text x="930" y="15" style="font-family:'Liberation Sans',sans-serif;font-size:10px;fill:#333">M5</text>
<text x="957" y="15" style="font-family:'Liberation Sans',sans-serif;font-size:10px;fill:#333">M15</text>
<text x="984" y="15" style="font-family:'Liberation Sans',sans-serif;font-size:10px;fill:#333">M30</text>
<text x="1016" y="15" style="font-family:'Liberation Sans',sans-serif;font-size:10px;fill:#333">H1</text>
<rect x="1038" y="1" width="1" height="20" fill="#a0a0a0"/>
<rect x="1039" y="0" width="24" height="21" fill="#f7f7f7"/>
<text x="1043" y="15" style="font-family:'Liberation Sans',sans-serif;font-size:10px;fill:#333">H4</text>
<text x="1072" y="15" style="font-family:'Liberation Sans',sans-serif;font-size:10px;fill:#333">D1</text>
<text x="1099" y="15" style="font-family:'Liberation Sans',sans-serif;font-size:10px;fill:#333">W1</text>
<text x="1126" y="15" style="font-family:'Liberation Sans',sans-serif;font-size:10px;fill:#333">MN</text>
<rect x="1149" y="0" width="1" height="23" fill="#a0a0a0"/>
<rect x="1150" y="0" width="1" height="23" fill="#ffffff"/>
<g shape-rendering="geometricPrecision"><line x1="1616" y1="12" x2="1612" y2="16" stroke="#1a50c0" stroke-width="2.5"/><circle cx="1619.5" cy="8.5" r="3.8" fill="#fff" stroke="#2a66d8" stroke-width="1.5"/></g>
<g shape-rendering="geometricPrecision"><ellipse cx="1643" cy="14" rx="6.5" ry="5" fill="#e4e6ee" stroke="#b8bcc8"/><polygon points="1639,17 1638,21 1643,18" fill="#c8ccd6"/><circle cx="1650.5" cy="8.3" r="8.2" fill="#dc3418"/><text x="1647.3" y="13.3" style="font-family:'Liberation Serif',serif;font-size:12px;font-weight:bold;fill:#fff">1</text></g>
</svg>
</body></html>
